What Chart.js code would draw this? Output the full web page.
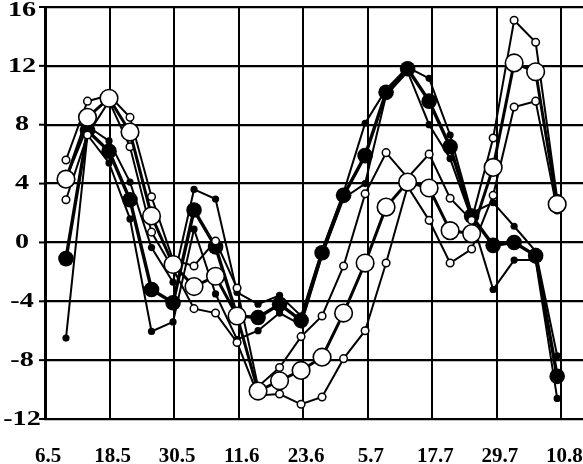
<!DOCTYPE html>
<html>
<head>
<meta charset="utf-8">
<script src="https://cdn.jsdelivr.net/npm/chart.js@4/dist/chart.umd.min.js"></script>
<style>
  html, body { margin: 0; padding: 0; background: #fff; }
  #wrap { width: 583px; height: 464px; }
</style>
</head>
<body>
<div id="wrap"><canvas id="chart" width="583" height="464"></canvas></div>
<script>
// ---- data ----
// x: days counted from 6.5 (ticks every 12 days)
const xTickLabels = ['6.5', '18.5', '30.5', '11.6', '23.6', '5.7', '17.7', '29.7', '10.8'];
const xTickDays   = [0, 12, 24, 36, 48, 60, 72, 84, 96];
const yTickValues = [16, 12, 8, 4, 0, -4, -8, -12];

// sample days (one point every ~4 days)
const days = [3.9, 7.9, 11.9, 15.8, 19.8, 23.8, 27.7, 31.7, 35.7, 39.6, 43.6, 47.6,
              51.5, 55.5, 59.5, 63.4, 67.4, 71.4, 75.3, 79.3, 83.3, 87.2, 91.2, 95.2];

// black group: mean + two members
const blackMean = [-1.1, 7.6, 6.2, 2.9, -3.2, -4.1, 2.2, -0.3, -5.0, -5.1, -4.2, -5.3,
                   -0.7, 3.2, 5.9, 10.2, 11.8, 9.6, 6.5, 1.8, -0.2, 0.0, -0.9, -9.1];
const blackA    = [4.3, 7.9, 6.9, 4.1, -0.35, -2.7, 3.6, 2.95, -3.4, -4.2, -3.6, -5.0,
                   -0.5, 3.4, 8.1, 10.4, 11.9, 11.15, 7.3, 2.0, 2.7, 1.1, -0.6, -7.7];
const blackB    = [-6.5, 7.3, 5.4, 1.6, -6.05, -5.4, 0.9, -3.5, -6.6, -6.0, -4.8, -5.6,
                   -0.9, 3.0, 4.0, 10.0, 11.6, 8.0, 5.7, 1.6, -3.2, -1.2, -1.2, -10.6];

// white group: mean + two members
const whiteMean = [4.3, 8.5, 9.8, 7.5, 1.8, -1.5, -3.0, -2.3, -5.0, -10.1, -9.4, -8.7,
                   -7.8, -4.8, -1.4, 2.4, 4.1, 3.7, 0.8, 0.6, 5.1, 12.2, 11.6, 2.6];
const whiteA    = [5.6, 9.6, 10.0, 8.5, 3.1, -1.2, -1.6, 0.1, -3.1, -9.8, -8.5, -6.4,
                   -5.0, -1.6, 3.3, 6.1, 4.4, 6.0, 3.0, 1.5, 7.1, 15.1, 13.6, 3.0];
const whiteB    = [2.9, 7.3, 9.6, 6.5, 0.7, -1.8, -4.5, -4.8, -6.8, -10.4, -10.3, -11.0,
                   -10.5, -7.9, -6.0, -1.4, 3.8, 1.5, -1.4, -0.45, 3.2, 9.2, 9.6, 2.2];

// ------------------------------------------------------
function pts(values) {
    return days.map((d, i) => ({ x: d, y: values[i] }));
}

function series(values, opts) {
    return Object.assign({
        data: pts(values),
        borderColor: '#000',
        pointBorderColor: '#000',
        tension: 0,
        fill: false
    }, opts);
}

// index 0 is drawn last (on top)
const datasets = [
    series(whiteMean, { borderWidth: 3, pointRadius: 8.8, pointBackgroundColor: '#fff', pointBorderWidth: 1.6 }),
    series(whiteA,    { borderWidth: 2, pointRadius: 3.8, pointBackgroundColor: '#fff', pointBorderWidth: 1.5 }),
    series(whiteB,    { borderWidth: 2, pointRadius: 3.8, pointBackgroundColor: '#fff', pointBorderWidth: 1.5 }),
    series(blackMean, { borderWidth: 3.4, pointRadius: 7.8, pointBackgroundColor: '#000', pointBorderWidth: 0 }),
    series(blackA,    { borderWidth: 2, pointRadius: 3.6, pointBackgroundColor: '#000', pointBorderWidth: 0 }),
    series(blackB,    { borderWidth: 2, pointRadius: 3.6, pointBackgroundColor: '#000', pointBorderWidth: 0 })
];

// tick labels drawn by hand (the y labels are stretched wide in the original)
const labelPlugin = {
    id: 'labels',
    afterDraw(chart) {
        const ctx = chart.ctx;
        const xs = chart.scales.x, ys = chart.scales.y;
        ctx.save();
        ctx.fillStyle = '#000';
        ctx.strokeStyle = '#000';

        // y tick marks + labels
        ctx.font = 'bold 22px "Liberation Serif"';
        ctx.textAlign = 'center';
        ctx.textBaseline = 'middle';
        yTickValues.forEach(v => {
            const py = ys.getPixelForValue(v);
            ctx.lineWidth = 2;
            ctx.beginPath();
            ctx.moveTo(39, py);
            ctx.lineTo(xs.left, py);
            ctx.stroke();
            ctx.save();
            ctx.translate(22, Math.max(py, 10));
            ctx.scale(1.28, 1);
            ctx.fillText(String(v), 0, 0);
            ctx.restore();
        });

        // x labels
        ctx.font = 'bold 21px "Liberation Serif"';
        ctx.textBaseline = 'alphabetic';
        xTickDays.forEach((d, i) => {
            const px = xs.getPixelForValue(d);
            const w = ctx.measureText(xTickLabels[i]).width;
            const cx = Math.min(px + 3, chart.width - w / 2);
            ctx.fillText(xTickLabels[i], cx, 462);
        });
        ctx.restore();
    }
};

new Chart(document.getElementById('chart'), {
    type: 'line',
    data: { datasets },
    options: {
        responsive: false,
        devicePixelRatio: 1,
        animation: false,
        events: [],
        layout: { autoPadding: false, padding: { left: 45, top: 7, right: 0, bottom: 45 } },
        plugins: { legend: { display: false }, tooltip: { enabled: false } },
        scales: {
            x: {
                type: 'linear',
                min: 0,
                max: 100,
                afterBuildTicks: scale => { scale.ticks = xTickDays.map(v => ({ value: v })); },
                ticks: { display: false },
                grid: { color: '#000', lineWidth: 2, drawTicks: false },
                border: { display: true, color: '#000', width: 2 }
            },
            y: {
                min: -12,
                max: 16,
                afterBuildTicks: scale => { scale.ticks = yTickValues.map(v => ({ value: v })); },
                ticks: { display: false },
                grid: { color: '#000', lineWidth: 2.2, drawTicks: false },
                border: { display: true, color: '#000', width: 3 }
            }
        }
    },
    plugins: [labelPlugin]
});
</script>
</body>
</html>
